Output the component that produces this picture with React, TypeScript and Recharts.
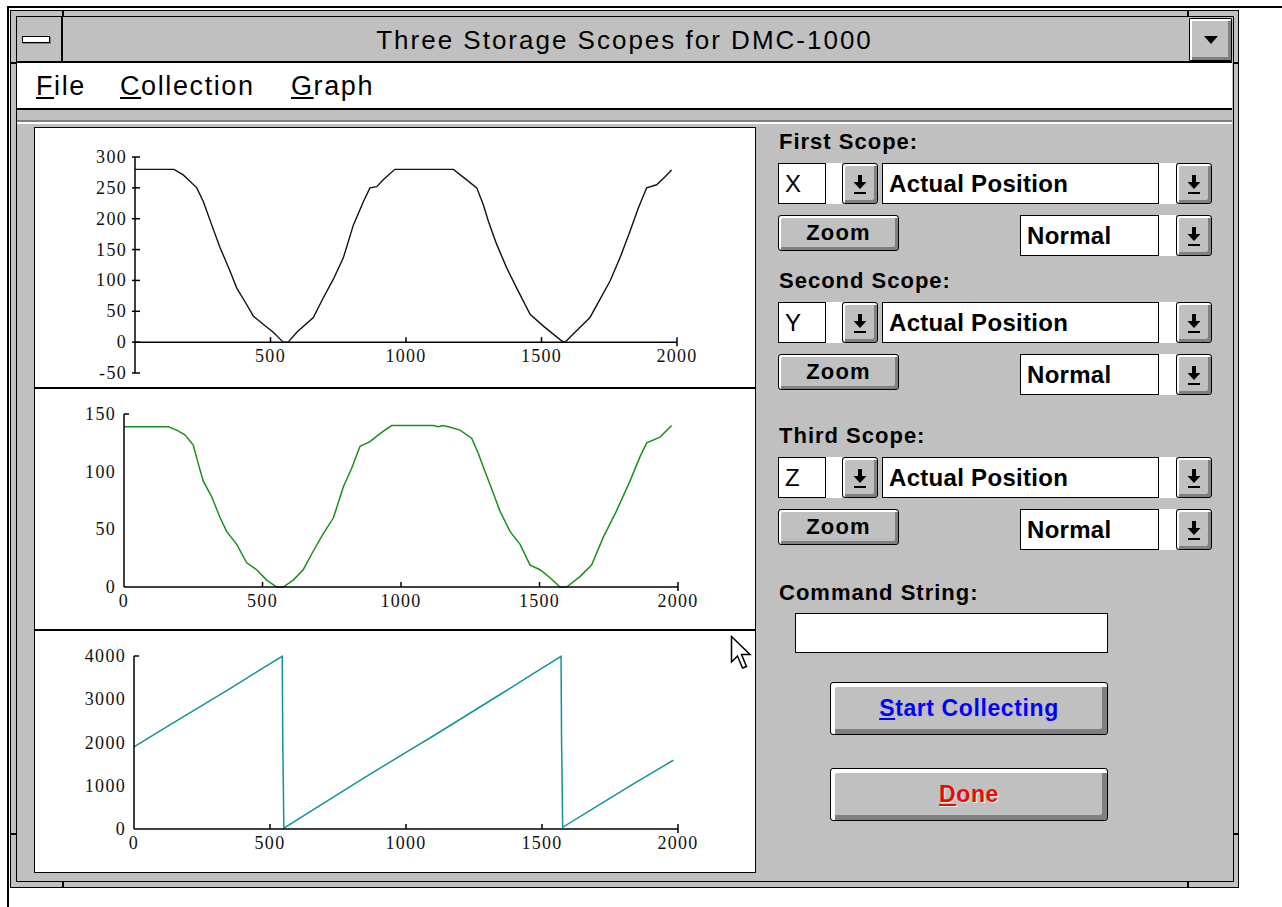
import React from 'react';
import { LineChart, Line, XAxis, YAxis, ReferenceLine, ReferenceDot } from 'recharts';

// ---------- data ----------
const scope1X = [0, 144, 178, 228, 252, 283, 314, 351, 375, 412, 437, 473, 510, 547, 565, 597, 658, 695, 732, 769, 806, 843, 867, 892, 916, 959, 1175, 1224, 1261, 1285, 1304, 1335, 1372, 1408, 1458, 1507, 1574, 1587, 1617, 1679, 1753, 1790, 1827, 1857, 1888, 1925, 1956, 1980];
const scope1Y = [280, 280, 271, 250, 228, 190, 153, 115, 88, 61, 42, 29, 16, 0, 0, 16, 40, 72, 102, 137, 190, 228, 250, 252, 263, 280, 280, 263, 250, 223, 196, 158, 120, 88, 45, 26, 2, 0, 13, 40, 99, 137, 180, 217, 250, 255, 268, 279];

const scope2X = [0, 160, 190, 220, 250, 268, 286, 317, 347, 371, 407, 443, 479, 515, 551, 575, 611, 647, 683, 719, 756, 792, 822, 852, 888, 924, 966, 1117, 1135, 1150, 1171, 1213, 1255, 1279, 1297, 1321, 1357, 1394, 1430, 1466, 1502, 1538, 1574, 1598, 1646, 1688, 1730, 1778, 1827, 1863, 1887, 1935, 1977];
const scope2Y = [139, 139, 136, 132, 123, 107, 92, 78, 60, 48, 37, 21, 15, 6, 0, 0, 6, 15, 31, 46, 60, 87, 103, 122, 126, 133, 140, 140, 139, 140, 139, 136, 129, 116, 104, 89, 66, 48, 37, 19, 15, 8, 0, 0, 9, 19, 43, 66, 92, 113, 125, 130, 140];

const scope3X = [0, 132, 353, 475, 545, 547, 551, 721, 843, 1015, 1100, 1223, 1346, 1468, 1570, 1572, 1576, 1713, 1836, 1983];
const scope3Y = [1900, 2405, 3245, 3725, 3990, 2000, 20, 690, 1170, 1830, 2150, 2630, 3110, 3590, 3990, 2010, 40, 570, 1045, 1590];

const xTicks = [0, 500, 1000, 1500, 2000];
const scope1XLabels = [500, 1000, 1500, 2000];
const scope1Ticks = [-50, 0, 50, 100, 150, 200, 250, 300];
const scope2Ticks = [0, 50, 100, 150];
const scope3Ticks = [0, 1000, 2000, 3000, 4000];

const titleText = 'Three Storage Scopes for DMC-1000';
const menuItems = ['File', 'Collection', 'Graph'];
const scopeLabels = ['First Scope:', 'Second Scope:', 'Third Scope:'];
const axisNames = ['X', 'Y', 'Z'];
const sourceName = 'Actual Position';
const modeName = 'Normal';

// ---------- styles ----------
const GRAY = '#c0c0c0';
const DARK = '#808080';
const UI_FONT = "'Liberation Sans', Arial, Helvetica, sans-serif";
const NUM_FONT = "'Liberation Serif', 'Times New Roman', serif";
const NUM_SIZE = 18;
const NUM_SPACING = 1.3;
const BLACK_LINE = '#000';
const GREEN = '#1a8f1a';
const TEAL = '#139393';

const toData = (xs: number[], ys: number[]) => xs.map((x, i) => ({ x, v: ys[i] }));

function Abs({ x, y, w, h, style, children }: any) {
  return (
    <div style={{ position: 'absolute', left: x, top: y, width: w, height: h, boxSizing: 'border-box', ...style }}>
      {children}
    </div>
  );
}

function Raised({ x, y, w, h, hi = 2, lo = 3, children, style }: any) {
  return (
    <Abs
      x={x}
      y={y}
      w={w}
      h={h}
      style={{
        border: '1.5px solid #000',
        borderRadius: 3,
        background: GRAY,
        boxShadow: `inset ${hi}px ${hi}px 0 #fff, inset -${lo}px -${lo}px 0 ${DARK}`,
        display: 'flex',
        alignItems: 'center',
        justifyContent: 'center',
        ...style,
      }}
    >
      {children}
    </Abs>
  );
}

function DownArrow() {
  return (
    <svg width={16} height={22} viewBox="0 0 16 22">
      <rect x={6} y={2} width={4} height={8} fill="#000" />
      <polygon points="1.5,9 14.5,9 8,16" fill="#000" />
      <rect x={2} y={19} width={12} height={2} fill="#000" />
    </svg>
  );
}

function Combo({ x, y, w, h, text, bold, strip, btnX }: any) {
  return (
    <>
      <Abs
        x={x}
        y={y}
        w={w}
        h={h}
        style={{
          background: '#fff',
          border: '1.5px solid #000',
          fontFamily: UI_FONT,
          fontSize: 24,
          fontWeight: bold ? 700 : 400,
          display: 'flex',
          alignItems: 'center',
          paddingLeft: 6,
          letterSpacing: 0.3,
        }}
      >
        {text}
      </Abs>
      <Abs x={x + w} y={y} w={strip} h={h} style={{ background: '#fff' }} />
      <Raised x={btnX} y={y} w={36} h={h}>
        <DownArrow />
      </Raised>
    </>
  );
}

function Label({ x, y, text }: any) {
  return (
    <div
      style={{
        position: 'absolute',
        left: x,
        top: y - 14,
        height: 28,
        lineHeight: '28px',
        fontFamily: UI_FONT,
        fontSize: 22,
        fontWeight: 700,
        letterSpacing: 1,
        color: '#000',
        whiteSpace: 'nowrap',
      }}
    >
      {text}
    </div>
  );
}

function ScopeControls({ top, label, axis }: any) {
  return (
    <>
      <Label x={779} y={top - 21} text={label} />
      <Combo x={778} y={top} w={48} h={41} text={axis} bold={false} strip={16} btnX={842} />
      <Combo x={882} y={top} w={277} h={41} text={sourceName} bold strip={17} btnX={1176} />
      <Raised x={778} y={top + 52} w={121} h={36}>
        <span style={{ fontFamily: UI_FONT, fontSize: 22, fontWeight: 700, letterSpacing: 1.2 }}>Zoom</span>
      </Raised>
      <Combo x={1020} y={top + 52} w={139} h={41} text={modeName} bold strip={17} btnX={1176} />
    </>
  );
}

// ---------- chart ticks ----------
const numText = (x: number, y: number, anchor: string, v: number) => (
  <text
    x={x}
    y={y}
    textAnchor={anchor as any}
    fontFamily={NUM_FONT}
    fontSize={NUM_SIZE}
    letterSpacing={NUM_SPACING}
    fill="#111"
  >
    {v}
  </text>
);

const yTickAll = (props: any) => {
  const { x, y, payload } = props;
  return (
    <g>
      <line x1={x - 3} y1={y} x2={x + 5} y2={y} stroke="#000" strokeWidth={1.5} />
      {numText(x - 8, y + 6, 'end', payload.value)}
    </g>
  );
};

const makeYTickTopCap = (maxV: number) => (props: any) => {
  const { x, y, payload } = props;
  return (
    <g>
      {payload.value === maxV && <line x1={x} y1={y} x2={x + 5} y2={y} stroke="#000" strokeWidth={1.5} />}
      {numText(x - 8, y + 6, 'end', payload.value)}
    </g>
  );
};

const xTickBottom = (props: any) => {
  const { x, y, payload } = props;
  const v = payload.value;
  return (
    <g>
      {v !== 0 && <line x1={x} x2={x} y1={v === 2000 ? y + 4 : y} y2={y - 5} stroke="#000" strokeWidth={1.5} />}
      {numText(x, y + 20, 'middle', v)}
    </g>
  );
};

const xTickAtZero = (label: number) => (props: any) => {
  const { cx, cy } = props;
  return (
    <g>
      <line x1={cx} x2={cx} y1={label === 2000 ? cy + 4 : cy} y2={cy - 5} stroke="#000" strokeWidth={1.5} />
      {numText(cx, cy + 20, 'middle', label)}
    </g>
  );
};

function Scope1() {
  const data = toData(scope1X, scope1Y);
  return (
    <LineChart width={718} height={257} data={data} margin={{ top: 27, right: 77, bottom: 14, left: 0 }}>
      <XAxis dataKey="x" type="number" domain={[0, 2000]} ticks={xTicks} hide />
      <YAxis
        type="number"
        domain={[-50, 300]}
        ticks={scope1Ticks}
        interval={0}
        width={99}
        tickSize={0}
        tickMargin={0}
        tickLine={false}
        axisLine={{ stroke: BLACK_LINE, strokeWidth: 1.5 }}
        tick={yTickAll}
      />
      <ReferenceLine y={0} stroke={BLACK_LINE} strokeWidth={1.5} />
      {scope1XLabels.map((v) => (
        <ReferenceDot key={v} x={v} y={0} r={1} ifOverflow="visible" shape={xTickAtZero(v)} />
      ))}
      <Line type="linear" dataKey="v" stroke="#111" strokeWidth={1.4} dot={false} isAnimationActive={false} />
    </LineChart>
  );
}

function Scope2() {
  const data = toData(scope2X, scope2Y);
  return (
    <LineChart width={718} height={239} data={data} margin={{ top: 24, right: 76, bottom: 12, left: 0 }}>
      <XAxis
        dataKey="x"
        type="number"
        domain={[0, 2000]}
        ticks={xTicks}
        interval={0}
        height={30}
        tickSize={0}
        tickMargin={0}
        tickLine={false}
        axisLine={{ stroke: BLACK_LINE, strokeWidth: 1.5 }}
        tick={xTickBottom}
      />
      <YAxis
        type="number"
        domain={[0, 150]}
        ticks={scope2Ticks}
        interval={0}
        width={88}
        tickSize={0}
        tickMargin={0}
        tickLine={false}
        axisLine={{ stroke: BLACK_LINE, strokeWidth: 1.5 }}
        tick={makeYTickTopCap(150)}
      />
      <Line type="linear" dataKey="v" stroke={GREEN} strokeWidth={1.5} dot={false} isAnimationActive={false} />
    </LineChart>
  );
}

function Scope3() {
  const data = toData(scope3X, scope3Y);
  return (
    <LineChart width={718} height={239} data={data} margin={{ top: 24, right: 76, bottom: 12, left: 0 }}>
      <XAxis
        dataKey="x"
        type="number"
        domain={[0, 2000]}
        ticks={xTicks}
        interval={0}
        height={30}
        tickSize={0}
        tickMargin={0}
        tickLine={false}
        axisLine={{ stroke: BLACK_LINE, strokeWidth: 1.5 }}
        tick={xTickBottom}
      />
      <YAxis
        type="number"
        domain={[0, 4000]}
        ticks={scope3Ticks}
        interval={0}
        width={98}
        tickSize={0}
        tickMargin={0}
        tickLine={false}
        axisLine={{ stroke: BLACK_LINE, strokeWidth: 1.5 }}
        tick={makeYTickTopCap(4000)}
      />
      <Line type="linear" dataKey="v" stroke={TEAL} strokeWidth={1.5} dot={false} isAnimationActive={false} />
    </LineChart>
  );
}

function Cursor() {
  return (
    <svg style={{ position: 'absolute', left: 730, top: 635 }} width={26} height={38} viewBox="0 0 26 38">
      <polygon
        points="1.5,1.5 1.5,27 7.5,21 12.5,33 16.5,31.5 11.5,19.5 20,19.5"
        fill="#fff"
        stroke="#000"
        strokeWidth={1.5}
      />
    </svg>
  );
}

export default function App() {
  return (
    <div style={{ position: 'absolute', left: 0, top: 0, width: 1282, height: 907, background: '#fff', overflow: 'hidden' }}>
      {/* page frame lines */}
      <Abs x={8} y={6} w={1274} h={2} style={{ background: '#000' }} />
      <Abs x={7} y={6} w={2} h={901} style={{ background: '#000' }} />

      {/* window frame */}
      <Abs x={10} y={10} w={1229} h={878} style={{ border: '1.5px solid #000', background: GRAY }} />
      <Abs x={15.5} y={15.5} w={1218} h={866} style={{ border: '1.5px solid #000' }} />
      <Abs x={62} y={10} w={1.5} h={6} style={{ background: '#000' }} />
      <Abs x={1187} y={10} w={1.5} h={6} style={{ background: '#000' }} />
      <Abs x={62} y={881} w={1.5} h={7} style={{ background: '#000' }} />
      <Abs x={1187} y={881} w={1.5} h={7} style={{ background: '#000' }} />
      <Abs x={10} y={62} w={6} h={1.5} style={{ background: '#000' }} />
      <Abs x={1233} y={62} w={6} h={1.5} style={{ background: '#000' }} />
      <Abs x={10} y={833} w={6} h={1.5} style={{ background: '#000' }} />
      <Abs x={1233} y={833} w={6} h={1.5} style={{ background: '#000' }} />

      {/* title bar */}
      <Abs x={17} y={17} w={1215} h={46} style={{ background: GRAY, borderBottom: '2px solid #000' }} />
      <Abs x={17} y={17} w={46} h={46} style={{ borderRight: '2px solid #000', borderBottom: '2px solid #000' }} />
      <Abs x={22} y={36} w={28} h={7} style={{ background: '#fff', border: '1.5px solid #000', boxShadow: `1px 1px 0 ${DARK}` }} />
      <div
        style={{
          position: 'absolute',
          left: 17,
          top: 17,
          width: 1215,
          height: 44,
          lineHeight: '46px',
          textAlign: 'center',
          fontFamily: UI_FONT,
          fontSize: 26,
          letterSpacing: 2,
          color: '#000',
        }}
      >
        {titleText}
      </div>
      <Raised x={1189} y={18} w={43} h={43} hi={2} lo={3} style={{ borderRadius: 1 }}>
        <svg width={14} height={8} viewBox="0 0 14 8">
          <polygon points="0,0 14,0 7,8" fill="#000" />
        </svg>
      </Raised>

      {/* menu bar */}
      <Abs x={17} y={63} w={1215} h={47} style={{ background: '#fff', borderBottom: '2px solid #000' }} />
      {menuItems.map((m, i) => (
        <div
          key={m}
          style={{
            position: 'absolute',
            left: [36, 120, 291][i],
            top: 70,
            height: 32,
            lineHeight: '32px',
            fontFamily: UI_FONT,
            fontSize: 27,
            letterSpacing: 1.6,
            color: '#000',
          }}
        >
          <span style={{ textDecoration: 'underline' }}>{m[0]}</span>
          {m.slice(1)}
        </div>
      ))}

      {/* client area lines */}
      <Abs x={17} y={120} w={1215} h={1.5} style={{ background: DARK }} />
      <Abs x={17} y={122} w={1215} h={1.5} style={{ background: '#fff' }} />

      {/* chart panel */}
      <Abs x={34} y={127} w={722} h={746} style={{ background: '#fff', border: '1.5px solid #000' }} />
      <Abs x={35} y={387} w={720} h={2} style={{ background: '#000' }} />
      <Abs x={35} y={629} w={720} h={2} style={{ background: '#000' }} />

      <div style={{ position: 'absolute', left: 36, top: 130 }}>
        <Scope1 />
      </div>
      <div style={{ position: 'absolute', left: 36, top: 390 }}>
        <Scope2 />
      </div>
      <div style={{ position: 'absolute', left: 36, top: 632 }}>
        <Scope3 />
      </div>

      {/* right controls */}
      <ScopeControls top={163} label={scopeLabels[0]} axis={axisNames[0]} />
      <ScopeControls top={302} label={scopeLabels[1]} axis={axisNames[1]} />
      <ScopeControls top={457} label={scopeLabels[2]} axis={axisNames[2]} />

      <Label x={779} y={593} text="Command String:" />
      <Abs x={795} y={613} w={313} h={40} style={{ background: '#fff', border: '1.5px solid #000' }} />

      <Raised x={830} y={682} w={278} h={53} hi={4} lo={5}>
        <span style={{ fontFamily: UI_FONT, fontSize: 23, fontWeight: 700, color: '#0000ff', letterSpacing: 0.6 }}>
          <span style={{ textDecoration: 'underline' }}>S</span>tart Collecting
        </span>
      </Raised>
      <Raised x={830} y={768} w={278} h={53} hi={4} lo={5}>
        <span
          style={{
            fontFamily: UI_FONT,
            fontSize: 23,
            fontWeight: 700,
            color: '#ff0000',
            letterSpacing: 0.6,
            textShadow: '1px 1px 0 #fff',
          }}
        >
          <span style={{ textDecoration: 'underline' }}>D</span>one
        </span>
      </Raised>

      <Cursor />
    </div>
  );
}
